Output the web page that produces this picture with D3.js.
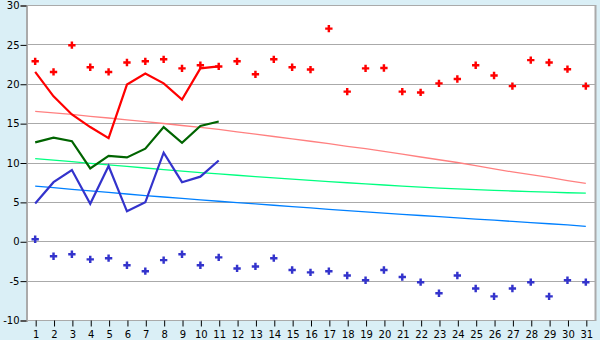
<!DOCTYPE html>
<html><head><meta charset="utf-8">
<script src="https://cdn.jsdelivr.net/npm/d3@7"></script>
<style>html,body{margin:0;padding:0;background:#daeff6;}svg{display:block;}</style>
</head><body>
<svg id="chart" width="600" height="340"></svg>
<script>
const days = d3.range(1, 32);
const yTicks = [-10, -5, 0, 5, 10, 15, 20, 25, 30];
const maxDaily = [22.85,21.5,24.9,22.1,21.5,22.7,22.85,23.1,21.95,22.35,22.2,22.85,21.2,23.1,22.1,21.8,27.0,19.0,21.95,22.0,19.0,18.9,20.05,20.6,22.35,21.05,19.7,23.0,22.7,21.85,19.7];
const minDaily = [0.25,-1.9,-1.65,-2.3,-2.15,-3.05,-3.8,-2.4,-1.65,-3.05,-2.05,-3.45,-3.2,-2.15,-3.65,-3.95,-3.8,-4.35,-4.95,-3.65,-4.55,-5.2,-6.6,-4.35,-6.0,-7.0,-6.0,-5.2,-7.0,-4.95,-5.2];
const maxLine = [21.5,18.4,16.1,14.5,13.1,19.9,21.3,20.05,18.0,21.95,22.2];
const meanLine = [12.55,13.15,12.7,9.25,10.85,10.65,11.75,14.5,12.5,14.65,15.2];
const minLine = [4.8,7.5,9.05,4.75,9.55,3.8,4.95,11.25,7.5,8.2,10.25];
const normalMax = [16.5,16.3,16.1,15.85,15.65,15.4,15.2,14.95,14.7,14.45,14.2,13.9,13.6,13.3,13.0,12.7,12.4,12.05,11.75,11.4,11.05,10.7,10.35,10.0,9.6,9.2,8.8,8.45,8.1,7.7,7.35];
const normalMean = [10.5,10.3,10.1,9.9,9.7,9.5,9.3,9.1,8.9,8.72,8.55,8.38,8.21,8.05,7.89,7.73,7.58,7.43,7.28,7.14,7.0,6.87,6.75,6.65,6.55,6.46,6.38,6.3,6.23,6.16,6.1];
const normalMin = [7.0,6.8,6.6,6.4,6.2,6.0,5.8,5.62,5.44,5.26,5.08,4.91,4.74,4.57,4.4,4.23,4.06,3.9,3.74,3.58,3.42,3.27,3.12,2.97,2.82,2.67,2.52,2.37,2.22,2.07,1.9];

const svg = d3.select("#chart");
const L = 26, R = 595, T = 5, B = 320;
const x = d3.scalePoint().domain(days).range([L, R]).padding(0.5);
const y = d3.scaleLinear().domain([-10, 30]).range([B, T]);
const font = "DejaVu Sans, Verdana, sans-serif";

svg.append("rect").attr("width", 600).attr("height", 340).attr("fill", "#daeff6");
svg.append("rect").attr("x", L).attr("y", T).attr("width", R - L).attr("height", B - T).attr("fill", "#fff");

// grid
svg.append("g").selectAll("line").data(yTicks).join("line")
  .attr("x1", L).attr("x2", R)
  .attr("y1", d => Math.round(y(d)) + 0.5).attr("y2", d => Math.round(y(d)) + 0.5)
  .attr("stroke", "#aaaaaa").attr("stroke-width", 1);

// border
svg.append("line").attr("x1", R + 0.5).attr("x2", R + 0.5).attr("y1", T).attr("y2", B + 1).attr("stroke", "#aaaaaa").attr("stroke-width", 2);

// y axis
const yAxis = d3.axisLeft(y).tickValues(yTicks).tickSize(6).tickPadding(1).tickFormat(d => String(d));
const gy = svg.append("g").attr("transform", `translate(${L + 0.5},0.5)`).call(yAxis);
gy.select(".domain").attr("stroke", "#aaaaaa").attr("stroke-width", 2);
gy.selectAll(".tick line").attr("stroke", "#000");
gy.selectAll("text").attr("font-family", font).attr("font-size", 10).attr("fill", "#000");

// x axis
const xAxis = d3.axisBottom(x).tickSize(6).tickPadding(4);
const gx = svg.append("g").attr("transform", `translate(0.5,${B + 0.5})`).call(xAxis);
gx.select(".domain").remove();
gx.selectAll(".tick line").attr("stroke", "#000");
gx.selectAll("text").attr("font-family", font).attr("font-size", 10).attr("fill", "#000");

// normal lines
function thin(data, color) {
  svg.append("path").datum(data)
    .attr("fill", "none").attr("stroke", color).attr("stroke-width", 1.3)
    .attr("d", d3.line().x((d, i) => x(days[i])).y(d => y(d)));
}
thin(normalMax, "#ff8080");
thin(normalMean, "#00ff80");
thin(normalMin, "#0080ff");

function thick(data, color) {
  svg.append("path").datum(data)
    .attr("fill", "none").attr("stroke", color).attr("stroke-width", 2.2)
    .attr("stroke-linejoin", "miter")
    .attr("d", d3.line().x((d, i) => x(days[i])).y(d => y(d)));
}
thick(maxLine, "#ff0000");
thick(meanLine, "#006400");
thick(minLine, "#3333cc");

function dots(data, color) {
  svg.append("g").selectAll("path").data(data).join("path")
    .attr("transform", (d, i) => `translate(${x(days[i])},${y(d)})`)
    .attr("d", d3.symbol().type(d3.symbolCross).size(30))
    .attr("fill", color);
}
dots(maxDaily, "#ff0000");
dots(minDaily, "#3333cc");
</script>
</body></html>
